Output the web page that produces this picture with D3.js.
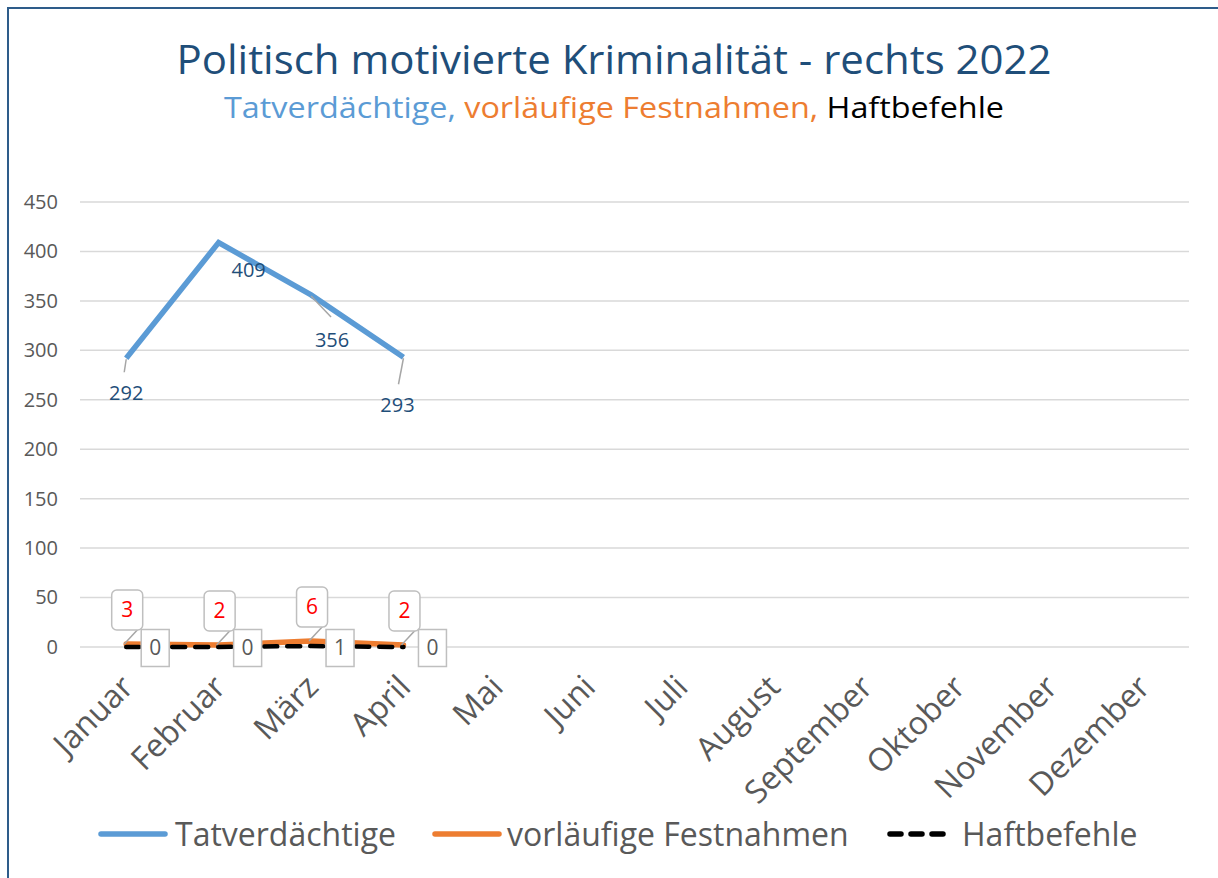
<!DOCTYPE html>
<html>
<head>
<meta charset="utf-8">
<script src="https://cdn.jsdelivr.net/npm/d3@7"></script>
<style>
  body { margin: 0; background: #fff; }
  svg { font-family: "Open Sans", "Noto Sans", sans-serif; }
</style>
</head>
<body>
<div id="canvas"></div>
<script>
// data
var months = ["Januar","Februar","März","April","Mai","Juni","Juli","August","September","Oktober","November","Dezember"];
var tatverdaechtige = [292, 409, 356, 293];
var festnahmen = [3, 2, 6, 2];
var haftbefehle = [0, 0, 1, 0];
var yTicks = [0, 50, 100, 150, 200, 250, 300, 350, 400, 450];

var w = 1218, h = 878;

var paper = d3.select("#canvas")
  .append("svg")
  .attr("width", w)
  .attr("height", h);

// outer frame
paper.append("rect")
  .attr("x", 8).attr("y", 8)
  .attr("width", w + 10).attr("height", h + 10)
  .style("fill", "#fff")
  .style("stroke", "#2E5C8A")
  .style("stroke-width", 2);

// titles
paper.append("text")
  .attr("x", 614).attr("y", 74)
  .attr("text-anchor", "middle")
  .style("font-size", "40px")
  .style("fill", "#1F4E79")
  .attr("textLength", 875)
  .attr("lengthAdjust", "spacingAndGlyphs")
  .text("Politisch motivierte Kriminalität - rechts 2022");

var sub = paper.append("text")
  .attr("x", 614).attr("y", 118)
  .attr("text-anchor", "middle")
  .style("font-size", "30px")
  .attr("textLength", 780)
  .attr("lengthAdjust", "spacingAndGlyphs");
sub.append("tspan").style("fill", "#5B9BD5").text("Tatverdächtige, ");
sub.append("tspan").style("fill", "#ED7D31").text("vorläufige Festnahmen, ");
sub.append("tspan").style("fill", "#000").text("Haftbefehle");

// scales
var x = d3.scaleBand().domain(months).range([80, 1189]);
var y = d3.scaleLinear().domain([0, 450]).range([647, 202]);
var cx = function(i) { return x(months[i]) + x.bandwidth() / 2; };

// gridlines
paper.selectAll(".grid")
  .data(yTicks)
  .enter().append("line")
  .attr("x1", 80).attr("x2", 1189)
  .attr("y1", function(d) { return y(d); })
  .attr("y2", function(d) { return y(d); })
  .style("stroke", "#d9d9d9")
  .style("stroke-width", 1.5);

// y axis labels
var yAxis = d3.axisLeft(y).tickValues(yTicks).tickSize(0).tickPadding(0);
var ya = paper.append("g").attr("transform", "translate(58,0)").call(yAxis);
ya.select(".domain").remove();
ya.selectAll("text")
  .style("font-family", "'Open Sans', sans-serif")
  .style("font-size", "20px")
  .style("fill", "#595959");

// x axis labels (rotated)
var xAxis = d3.axisBottom(x).tickSize(0).tickPadding(0);
var xa = paper.append("g").attr("transform", "translate(0,672)").call(xAxis);
xa.select(".domain").remove();
xa.selectAll("text")
  .style("font-family", "'Open Sans', sans-serif")
  .style("font-size", "32px")
  .style("fill", "#595959")
  .attr("text-anchor", "end")
  .attr("dy", "0.75em")
  .attr("transform", "translate(-8,0) rotate(-45)");

// lines
var line = d3.line()
  .x(function(d, i) { return cx(i); })
  .y(function(d) { return y(d); });

paper.append("path").datum(tatverdaechtige)
  .attr("d", line)
  .style("fill", "none")
  .style("stroke", "#5B9BD5")
  .style("stroke-width", 5.5);

paper.append("path").datum(festnahmen)
  .attr("d", line)
  .style("fill", "none")
  .style("stroke", "#ED7D31")
  .style("stroke-width", 5.5)
  .style("stroke-linecap", "round");

paper.append("path").datum(haftbefehle)
  .attr("d", line)
  .style("fill", "none")
  .style("stroke", "#000")
  .style("stroke-width", 4.5)
  .style("stroke-linecap", "round")
  .style("stroke-dasharray", "13,10");

// labels for Tatverdächtige: label offset [dx, dy] and leader end [dx, dy] (null = none)
var tvLabel = [[0, 42], [30, 34], [21, 52], [-6, 55]];
var tvLeader = [[-2, 14], null, [20, 22], [-5, 27]];
tatverdaechtige.forEach(function(v, i) {
  var px = cx(i), py = y(v);
  if (tvLeader[i]) {
    paper.append("line")
      .attr("x1", px).attr("y1", py + 1)
      .attr("x2", px + tvLeader[i][0])
      .attr("y2", py + tvLeader[i][1])
      .style("stroke", "#a6a6a6").style("stroke-width", 1.5);
  }
  paper.append("text")
    .attr("x", px + tvLabel[i][0])
    .attr("y", py + tvLabel[i][1])
    .attr("text-anchor", "middle")
    .style("font-size", "20px")
    .style("fill", "#1F4E79")
    .text(v);
});

// boxed labels
function boxLabel(bx, by, bw, bh, txt, col, r) {
  paper.append("rect")
    .attr("x", bx - bw / 2).attr("y", by - bh / 2)
    .attr("width", bw).attr("height", bh)
    .attr("rx", r).attr("ry", r)
    .style("fill", "#fff")
    .style("stroke", "#bfbfbf")
    .style("stroke-width", 1.5);
  paper.append("text")
    .attr("x", bx).attr("y", by)
    .attr("dy", "0.35em")
    .attr("text-anchor", "middle")
    .style("font-size", "21px")
    .style("fill", col)
    .text(txt);
}

festnahmen.forEach(function(v, i) {
  var px = cx(i), py = y(v);
  paper.append("line")
    .attr("x1", px - 2).attr("y1", py)
    .attr("x2", px + 12).attr("y2", py - 15)
    .style("stroke", "#a6a6a6").style("stroke-width", 1.5);
  boxLabel(px + 1, py - 34, 31, 40, v, "#FF0000", 5);
});

haftbefehle.forEach(function(v, i) {
  var px = cx(i);
  boxLabel(px + 29, 648, 28, 37, v, "#595959", 0);
});

// legend
var legend = [
  { name: "Tatverdächtige", color: "#5B9BD5", x: 98, len: 67, tx: 175, dash: null },
  { name: "vorläufige Festnahmen", color: "#ED7D31", x: 432, len: 67, tx: 507, dash: null },
  { name: "Haftbefehle", color: "#000", x: 887, len: 56, tx: 962, dash: "11,10" }
];
legend.forEach(function(d) {
  paper.append("line")
    .attr("x1", d.x + 3).attr("x2", d.x + d.len)
    .attr("y1", 834).attr("y2", 834)
    .style("stroke", d.color)
    .style("stroke-width", 5.5)
    .style("stroke-linecap", "round")
    .style("stroke-dasharray", d.dash);
  paper.append("text")
    .attr("x", d.tx).attr("y", 846)
    .style("font-size", "32px")
    .style("fill", "#595959")
    .text(d.name);
});
</script>
</body>
</html>
